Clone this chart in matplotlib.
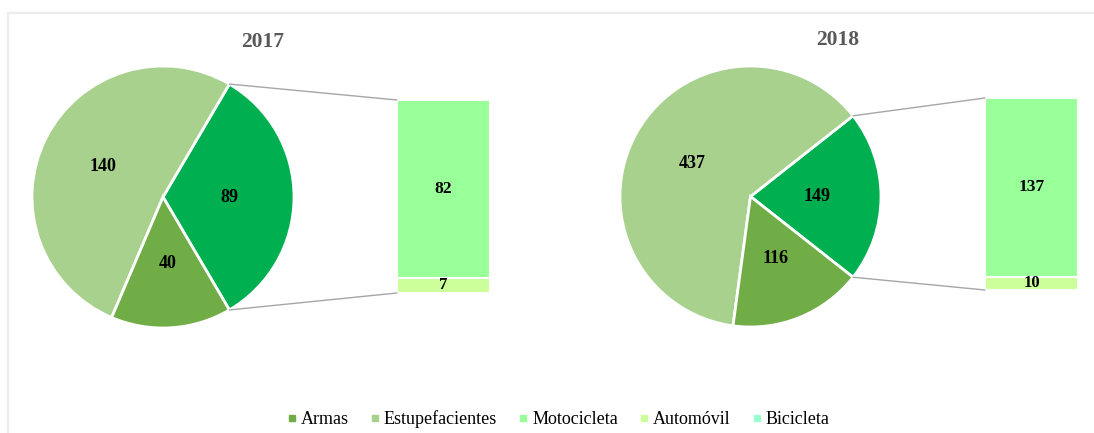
import math
import matplotlib
matplotlib.use("Agg")
import matplotlib.pyplot as plt
from matplotlib.patches import ConnectionPatch
from matplotlib.lines import Line2D

# ---- data ----
years = ["2017", "2018"]
categories = ["Armas", "Estupefacientes", "Motocicleta", "Automóvil", "Bicicleta"]
armas = [40, 116]
estupefacientes = [140, 437]
otros = [89, 149]          # value shown on the "other" slice
motocicleta = [82, 137]
automovil = [7, 10]
bicicleta = [0, 0]

colors = {
    "Armas": "#70AD47",
    "Estupefacientes": "#A9D18E",
    "Otros": "#00B050",
    "Motocicleta": "#99FF99",
    "Automóvil": "#CCFF99",
    "Bicicleta": "#99FFCC",
}

plt.rcParams['font.family'] = ['Liberation Serif', 'DejaVu Serif']

W, H = 1094, 433
fig = plt.figure(figsize=(W / 100, H / 100), dpi=100)

def frac(x0, y0, x1, y1):
    return [x0 / W, 1 - y1 / H, (x1 - x0) / W, (y1 - y0) / H]

# border lines (chart area frame)
fig.add_artist(Line2D([8 / W, 1.0], [1 - 13 / H, 1 - 13 / H], color="#EDEDED", lw=1.6))
fig.add_artist(Line2D([8 / W, 8 / W], [1 - 13 / H, 0.0], color="#EDEDED", lw=1.6))

pie_boxes = [(32, 66, 294, 328), (620, 66, 881, 327)]
bar_boxes = [(397, 100, 490, 293), (985, 98, 1078, 290)]
title_pos = [(263, 42), (838, 40)]

for i in range(2):
    vals = [otros[i], estupefacientes[i], armas[i]]
    cols = [colors["Otros"], colors["Estupefacientes"], colors["Armas"]]
    total = sum(vals)
    other_angle = otros[i] / total * 360.0
    axp = fig.add_axes(frac(*pie_boxes[i]))
    it = iter(vals)
    axp.pie(
        vals, colors=cols, startangle=-other_angle / 2, counterclock=True,
        radius=1.0, autopct=lambda p, it=it: f"{next(it)}", pctdistance=0.51,
        wedgeprops=dict(edgecolor="white", linewidth=2),
        textprops=dict(fontsize=13, fontweight="bold", color="black"))
    axp.set_xlim(-1.0, 1.0)
    axp.set_ylim(-1.0, 1.0)
    axp.set_aspect("equal")
    axp.axis("off")

    # secondary stacked bar
    axb = fig.add_axes(frac(*bar_boxes[i]))
    seg = [automovil[i], motocicleta[i], bicicleta[i]]
    segc = [colors["Automóvil"], colors["Motocicleta"], colors["Bicicleta"]]
    bottom = 0
    for v, c in zip(seg, segc):
        if v > 0:
            axb.bar(0, v, bottom=bottom, width=1.0, color=c,
                    edgecolor="white", linewidth=1.5)
            axb.text(0, bottom + v / 2, f"{v}", ha="center", va="center",
                     fontsize=12.5 if v > 20 else 12, fontweight="bold", color="black")
        bottom += v
    stack_total = automovil[i] + motocicleta[i] + bicicleta[i]
    axb.set_xlim(-0.5, 0.5)
    axb.set_ylim(0, stack_total)
    axb.axis("off")

    # connector lines
    a = math.radians(other_angle / 2)
    for sgn, yb in [(1, stack_total), (-1, 0)]:
        con = ConnectionPatch(xyA=(math.cos(a), sgn * math.sin(a)), coordsA=axp.transData,
                              xyB=(-0.5, yb), coordsB=axb.transData,
                              color="#A6A6A6", lw=1.0)
        fig.add_artist(con)

    fig.text(title_pos[i][0] / W, 1 - title_pos[i][1] / H, years[i],
             ha="center", va="center", fontsize=15.5, fontweight="bold", color="#595959")

handles = [Line2D([0], [0], marker="s", linestyle="none", markersize=5,
                  markerfacecolor=colors[c], markeredgecolor=colors[c]) for c in categories]
fig.legend(handles, categories, loc="center", bbox_to_anchor=(558 / W, 1 - 419 / H),
           ncol=5, frameon=False, fontsize=13, handlelength=0.6, handletextpad=0.2,
           columnspacing=1.15)

fig.savefig("out.png", dpi=100)
